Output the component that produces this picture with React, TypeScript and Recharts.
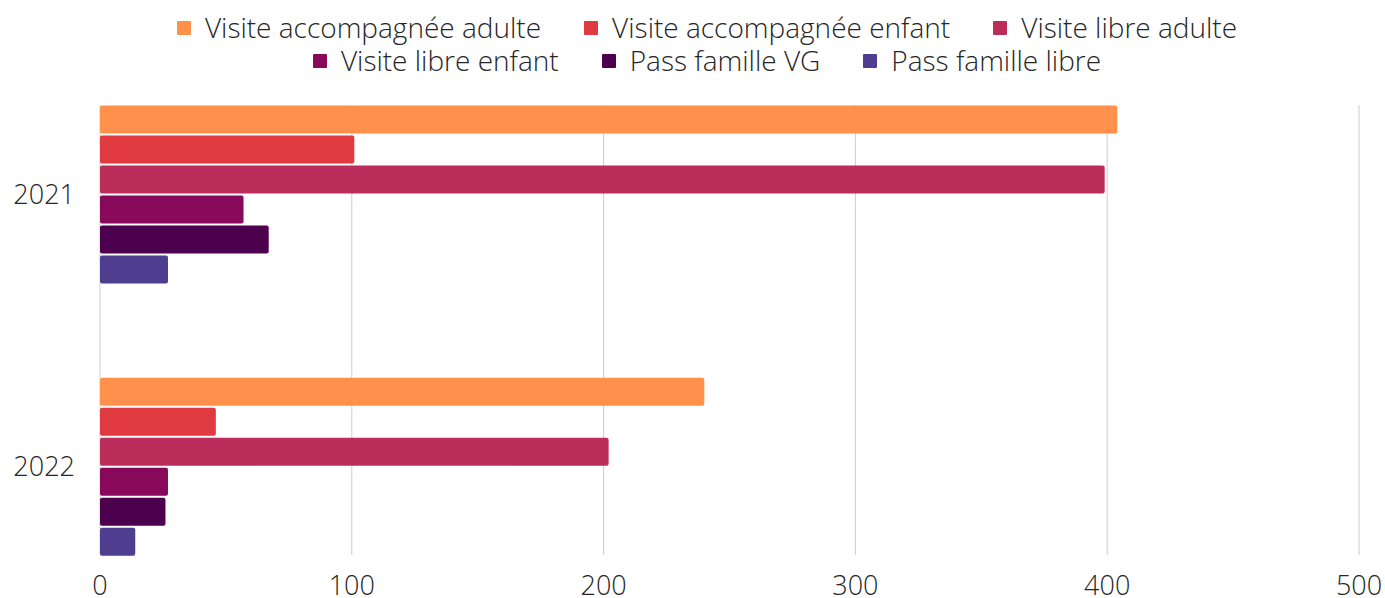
import React from 'react';
import { BarChart, Bar, XAxis, YAxis, CartesianGrid, Legend } from 'recharts';

const categories = ['2021', '2022'];
const seriesNames = [
  'Visite accompagnée adulte',
  'Visite accompagnée enfant',
  'Visite libre adulte',
  'Visite libre enfant',
  'Pass famille VG',
  'Pass famille libre',
];
const visiteAccompagneeAdulte = [404, 240];
const visiteAccompagneeEnfant = [101, 46];
const visiteLibreAdulte = [399, 202];
const visiteLibreEnfant = [57, 27];
const passFamilleVG = [67, 26];
const passFamilleLibre = [27, 14];
const xTicks = [0, 100, 200, 300, 400, 500];
const colors = ['#FF914D', '#E0393F', '#BB2E5B', '#88095A', '#4D004E', '#4F3D8F'];

const seriesValues = [
  visiteAccompagneeAdulte,
  visiteAccompagneeEnfant,
  visiteLibreAdulte,
  visiteLibreEnfant,
  passFamilleVG,
  passFamilleLibre,
];
const keys = ['s0', 's1', 's2', 's3', 's4', 's5'];

const data = categories.map((year, i) => {
  const row: any = { year };
  seriesValues.forEach((vals, j) => {
    row[keys[j]] = vals[i];
  });
  return row;
});

const FONT = '"Open Sans", sans-serif';
const TEXT = '#262626';

const LegendContent = () => {
  const items = seriesNames.map((name, j) => ({ name, color: colors[j] }));
  const rows = [items.slice(0, 3), items.slice(3, 6)];
  return (
    <div style={{ width: 1385, paddingLeft: 29, boxSizing: 'border-box', fontFamily: FONT, color: TEXT, fontWeight: 300 }}>
      {rows.map((row, ri) => (
        <div
          key={ri}
          style={{ display: 'flex', justifyContent: 'center', alignItems: 'center', columnGap: 43, height: 33 }}
        >
          {row.map((item) => (
            <div key={item.name} style={{ display: 'flex', alignItems: 'center' }}>
              <span style={{ display: 'inline-block', width: 14, height: 14, background: item.color, marginRight: 14, borderRadius: 1 }} />
              <span style={{ fontSize: 28, lineHeight: '33px', whiteSpace: 'nowrap' }}>{item.name}</span>
            </div>
          ))}
        </div>
      ))}
    </div>
  );
};

export default function App() {
  return (
    <div style={{ position: 'absolute', left: 0, top: 0, width: 1385, height: 598, background: '#fff' }}>
      <BarChart
        width={1385}
        height={598}
        data={data}
        layout="vertical"
        margin={{ top: 105, right: 26, bottom: 0, left: 0 }}
        barSize={28}
        barGap={2}
      >
        <CartesianGrid horizontal={false} vertical={true} stroke="#cccccc" />
        <XAxis
          type="number"
          domain={[0, 500]}
          ticks={xTicks}
          axisLine={false}
          tickLine={false}
          tickSize={0}
          tickMargin={21}
          height={43}
          interval={0}
          tick={{ fill: TEXT, fontSize: 27, fontFamily: FONT, fontWeight: 300 }}
        />
        <YAxis
          type="category"
          dataKey="year"
          width={100}
          axisLine={false}
          tickLine={false}
          tickSize={0}
          tickMargin={25}
          padding={{ top: -46.5, bottom: -48 }}
          tick={{ fill: TEXT, fontSize: 27, fontFamily: FONT, fontWeight: 300 }}
        />
        <Legend
          verticalAlign="middle"
          align="center"
          wrapperStyle={{ top: 11, left: 0, width: 1385 }}
          content={<LegendContent />}
        />
        {keys.map((k, j) => (
          <Bar
            key={k}
            dataKey={k}
            name={seriesNames[j]}
            fill={colors[j]}
            radius={2}
            isAnimationActive={false}
          />
        ))}
      </BarChart>
    </div>
  );
}
